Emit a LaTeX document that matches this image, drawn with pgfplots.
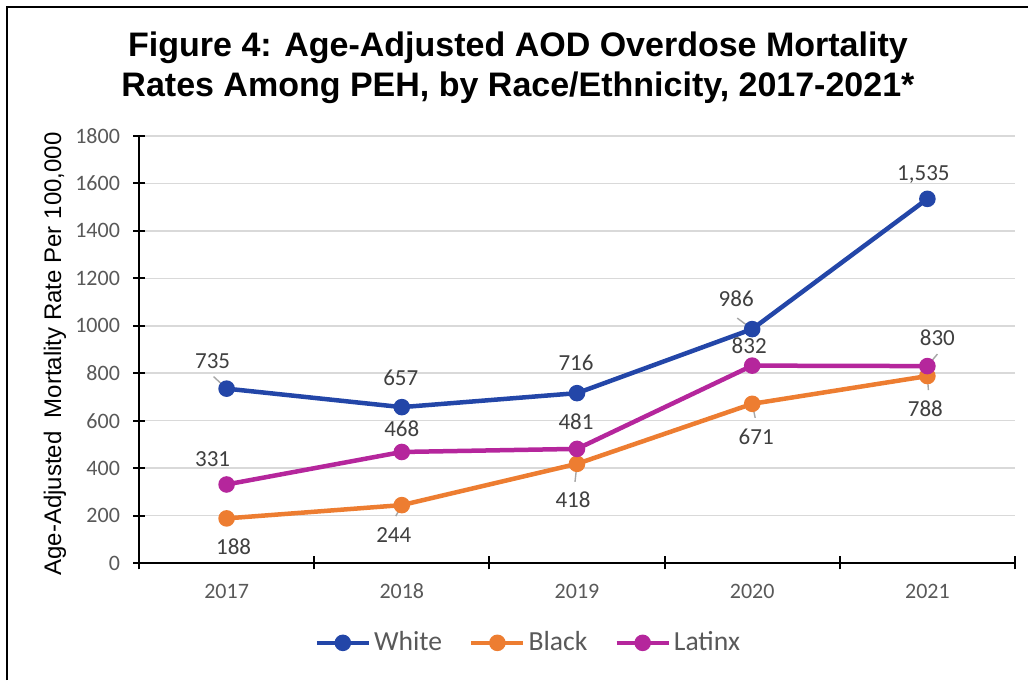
\documentclass[border=0pt]{standalone}
\usepackage{fontspec}
\setmainfont{Carlito}
\newfontfamily\arialfont{Liberation Sans}
\usepackage{pgfplots}
\pgfplotsset{compat=1.18}
\definecolor{cwhite}{HTML}{2346A8}
\definecolor{cblack}{HTML}{ED7D31}
\definecolor{clat}{HTML}{B5269C}
\definecolor{tickgray}{HTML}{595959}
\definecolor{labgray}{HTML}{404040}
\definecolor{gridgray}{HTML}{D9D9D9}
\definecolor{leadgray}{HTML}{A6A6A6}
\tikzset{lab/.style={font=\fontsize{11.5}{13}\selectfont, text=labgray}}
\begin{document}
\begin{tikzpicture}[x=1pt,y=1pt]
\useasboundingbox (0pt,0pt) rectangle (514pt,340pt);
\fill[white] (0pt,0pt) rectangle (514pt,340pt);
\draw[line width=1pt] (3.5pt,0pt) -- (3.5pt,336.5pt) -- (514pt,336.5pt);
\node[font=\arialfont\bfseries\fontsize{17}{20}\selectfont, align=center] at (259pt,306pt)
  {Figure 4: Age-Adjusted\ AOD\ Overdose Mortality\\Rates Among PEH, by Race/Ethnicity, 2017-2021*};
\node[font=\arialfont\fontsize{12}{14}\selectfont, rotate=90] at (27.5pt,163pt)
  {Age-Adjusted\ \ Mortality Rate Per 100,000};
\begin{axis}[
  at={(69.5pt,58.5pt)}, anchor=south west,
  scale only axis, width=438pt, height=213.5pt,
  xmin=-0.5, xmax=4.5, ymin=0, ymax=1800,
  axis x line=bottom, axis y line=left,
  axis line style={-, line width=1pt, black},
  xtick={0,1,2,3,4},
  xticklabels={2017,2018,2019,2020,2021},
  major x tick style={draw=none},
  minor xtick={-0.5,0.5,1.5,2.5,3.5,4.5},
  minor x tick style={black, line width=1pt},
  ytick={0,200,...,1800},
  yticklabels={0,200,400,600,800,1000,1200,1400,1600,1800},
  major y tick style={black, line width=1pt},
  tick align=center,
  major tick length=6pt, minor tick length=6.5pt,
  ymajorgrids, grid style={gridgray, line width=0.75pt},
  ticklabel style={font=\fontsize{11}{13}\selectfont, text=tickgray},
  xticklabel style={yshift=-3.5pt, text depth=0pt, text height=7.5pt},
  yticklabel style={xshift=-3pt},
  clip=false,
  legend columns=3,
  legend style={at={(0.445,-0.187)}, anchor=center, draw=none, fill=none,
     font=\fontsize{13.8}{15}\selectfont, text=tickgray,
     nodes={inner sep=1.5pt},
     /tikz/every even column/.append style={column sep=12pt}},
  legend image code/.code={\draw[mark repeat=2,mark phase=2,#1] plot coordinates {(0pt,0pt) (13pt,0pt) (26pt,0pt)};},
  every axis plot/.append style={line width=2.25pt, mark=*, mark size=3pt},
]
% leader lines
\draw[leadgray, line width=0.7pt] (axis cs:0,735) -- ++(-6.5pt,6pt);
\draw[leadgray, line width=0.7pt] (axis cs:3,986) -- ++(-7.5pt,5.5pt);
\draw[leadgray, line width=0.7pt] (axis cs:1,244) -- ++(-3pt,-5.5pt);
\draw[leadgray, line width=0.7pt] (axis cs:2,418) -- ++(-1pt,-9pt);
\draw[leadgray, line width=0.7pt] (axis cs:3,671) -- ++(1.5pt,-7pt);
\draw[leadgray, line width=0.7pt] (axis cs:4,788) -- ++(0.5pt,-7pt);
\draw[leadgray, line width=0.7pt] (axis cs:4,830) -- ++(5pt,6pt);
\addplot[color=cwhite, mark options={fill=cwhite}] coordinates {(0,735) (1,657) (2,716) (3,986) (4,1535)};
\addlegendentry{White}
\addplot[color=cblack, mark options={fill=cblack}] coordinates {(0,188) (1,244) (2,418) (3,671) (4,788)};
\addlegendentry{Black}
\addplot[color=clat, mark options={fill=clat}] coordinates {(0,331) (1,468) (2,481) (3,832) (4,830)};
\addlegendentry{Latinx}
% data labels: White
\node[lab, xshift=-7pt, yshift=14pt] at (axis cs:0,735) {735};
\node[lab, xshift=-0.5pt, yshift=14.5pt] at (axis cs:1,657) {657};
\node[lab, xshift=-0.5pt, yshift=15pt] at (axis cs:2,716) {716};
\node[lab, xshift=-8pt, yshift=15pt] at (axis cs:3,986) {986};
\node[lab, xshift=-2pt, yshift=12pt] at (axis cs:4,1535) {1,535};
% Black
\node[lab, xshift=3.5pt, yshift=-14pt] at (axis cs:0,188) {188};
\node[lab, xshift=-4pt, yshift=-15pt] at (axis cs:1,244) {244};
\node[lab, xshift=-2pt, yshift=-18pt] at (axis cs:2,418) {418};
\node[lab, xshift=2pt, yshift=-16.5pt] at (axis cs:3,671) {671};
\node[lab, xshift=-1pt, yshift=-16.5pt] at (axis cs:4,788) {788};
% Latinx
\node[lab, xshift=-7pt, yshift=12.5pt] at (axis cs:0,331) {331};
\node[lab, xshift=0pt, yshift=11.5pt] at (axis cs:1,468) {468};
\node[lab, xshift=-0.5pt, yshift=13.5pt] at (axis cs:2,481) {481};
\node[lab, xshift=-1.5pt, yshift=10pt] at (axis cs:3,832) {832};
\node[lab, xshift=5pt, yshift=14pt] at (axis cs:4,830) {830};
\end{axis}
\end{tikzpicture}
\end{document}
